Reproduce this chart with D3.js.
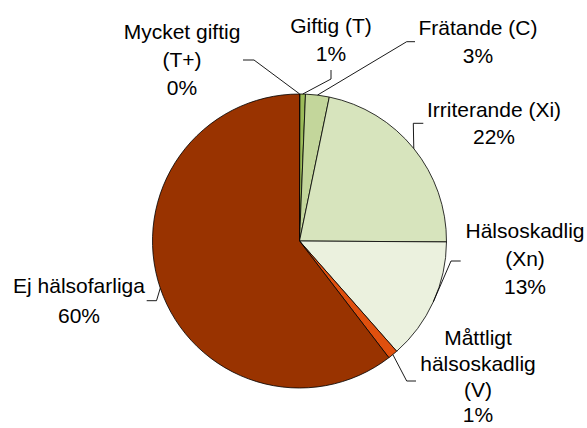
<!DOCTYPE html>
<html><head><meta charset="utf-8">
<script src="https://cdn.jsdelivr.net/npm/d3@7"></script>
<style>html,body{margin:0;padding:0;background:#fff;}svg{display:block;}text{font-family:"Liberation Sans",Arial,sans-serif;}</style>
</head><body>
<svg id="chart" width="587" height="428"></svg>
<script>
// ---- data ----
const categories = ["Mycket giftig (T+)","Giftig (T)","Frätande (C)","Irriterande (Xi)","Hälsoskadlig (Xn)","Måttligt hälsoskadlig (V)","Ej hälsofarliga"];
const values = [0.05, 0.6, 2.6, 21.85, 13.4, 1.1, 60.4];
const labelLines = [
  ["Mycket giftig","(T+)"],
  ["Giftig (T)"],
  ["Frätande (C)"],
  ["Irriterande (Xi)"],
  ["Hälsoskadlig","(Xn)"],
  ["Måttligt","hälsoskadlig","(V)"],
  ["Ej hälsofarliga"]
];
const colors = ["#77933C","#9BBB59","#C3D69B","#D7E4BD","#EBF1DE","#E0500E","#993300"];

// ---- layout ----
const cx = 299.5, cy = 241, R = 147;
const labelPos = [
  {x:182, y:39, lh:28},
  {x:331, y:33, lh:27.5},
  {x:478, y:35, lh:28},
  {x:494, y:117, lh:27},
  {x:525, y:238, lh:28},
  {x:478, y:345, lh:25.8},
  {x:79,  y:293, lh:30}
];
const leaders = [
  [[243,60],[254,60]],
  [[331,70],[331,79]],
  [[415,41.7],[406.7,41.7]],
  [[423.3,123.3],[413.3,123.3]],
  [[460.7,261],[451,261]],
  [[416,381],[406.7,381]],
  [[146.7,300.7],[156.5,300.7]]
];

const svg = d3.select("#chart");
const total = d3.sum(values);
const pie = d3.pie().sort(null).value(d => d)(values);
const arc = d3.arc().innerRadius(0).outerRadius(R);
const g = svg.append("g").attr("transform", `translate(${cx},${cy})`);
g.selectAll("path").data(pie).join("path")
  .attr("d", arc)
  .attr("fill", (d,i) => colors[i])
  .attr("stroke", "#000")
  .attr("stroke-width", 0.8)
  .attr("stroke-linejoin", "round");

const edgePt = d => {
  const a = (d.startAngle + d.endAngle) / 2;
  return [cx + R * Math.sin(a), cy - R * Math.cos(a)];
};
const line = d3.line();
svg.append("g").selectAll("path").data(pie).join("path")
  .attr("d", (d,i) => line([...leaders[i], edgePt(d)]))
  .attr("fill", "none")
  .attr("stroke", "#000")
  .attr("stroke-width", 0.9);

const lg = svg.append("g")
  .attr("font-size", 21)
  .attr("fill", "#000")
  .attr("text-anchor", "middle");
pie.forEach((d,i) => {
  const lines = [...labelLines[i], Math.round(values[i] / total * 100) + "%"];
  const t = lg.append("text");
  lines.forEach((s,k) => {
    t.append("tspan").attr("x", labelPos[i].x).attr("y", labelPos[i].y + k * labelPos[i].lh).text(s);
  });
});
</script>
</body></html>
